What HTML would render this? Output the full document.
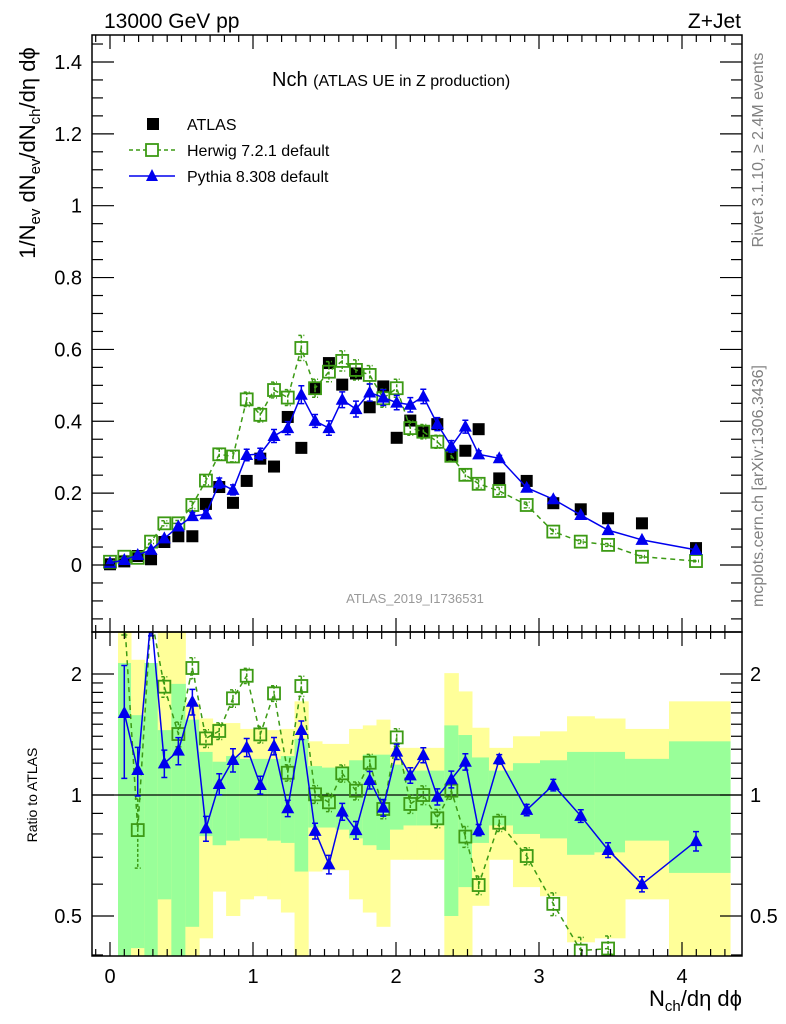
<!DOCTYPE html>
<html><head><meta charset="utf-8">
<style>
html,body{margin:0;padding:0;background:#fff;}
svg{display:block;font-family:"Liberation Sans",Arial,sans-serif;}
</style></head>
<body>
<svg id="chart" xmlns="http://www.w3.org/2000/svg" width="786" height="1024" viewBox="0 0 786 1024">
<defs>
<clipPath id="clipMain"><rect x="92" y="35" width="650" height="597"/></clipPath>
<clipPath id="clipRatio"><rect x="92" y="632" width="650" height="324"/></clipPath>
</defs>
<g id="bands" clip-path="url(#clipRatio)"></g>
<g id="marks"></g>
<g id="axes"></g>
<text x="104" y="28" font-size="21">13000 GeV pp</text>
<text x="741" y="28" font-size="21" text-anchor="end">Z+Jet</text>
<text x="272" y="86" font-size="20">Nch <tspan font-size="16">(ATLAS UE in Z production)</tspan></text>
<g>
  <rect x="147" y="118" width="12" height="12" fill="#000"/>
  <text x="187" y="130" font-size="16">ATLAS</text>
  <line x1="129" y1="150" x2="175" y2="150" stroke="#3c9a14" stroke-width="1.5" stroke-dasharray="4,3"/>
  <rect x="146" y="144" width="12" height="12" fill="#fff" stroke="#3c9a14" stroke-width="1.8"/>
  <text x="187" y="156" font-size="16">Herwig 7.2.1 default</text>
  <line x1="129" y1="176" x2="175" y2="176" stroke="#0000ee" stroke-width="1.5"/>
  <polygon points="152,169 146,181 158,181" fill="#0000ee"/>
  <text x="187" y="182" font-size="16">Pythia 8.308 default</text>
</g>
<text x="415" y="603" font-size="13" fill="#999" text-anchor="middle">ATLAS_2019_I1736531</text>
<text transform="translate(763,150) rotate(-90)" font-size="16" fill="#808080" text-anchor="middle">Rivet 3.1.10, ≥ 2.4M events</text>
<text transform="translate(763,486) rotate(-90)" font-size="16" fill="#808080" text-anchor="middle">mcplots.cern.ch [arXiv:1306.3436]</text>
<text transform="translate(35,153) rotate(-90)" font-size="22" text-anchor="middle">1/N<tspan font-size="15" dy="5">ev</tspan><tspan dy="-5"> dN</tspan><tspan font-size="15" dy="5">ev</tspan><tspan dy="-5">/dN</tspan><tspan font-size="15" dy="5">ch</tspan><tspan dy="-5">/dη dϕ</tspan></text>
<text transform="translate(37,795) rotate(-90)" font-size="14" text-anchor="middle">Ratio to ATLAS</text>
<text x="742" y="1006" font-size="22" text-anchor="end">N<tspan font-size="15" dy="5">ch</tspan><tspan dy="-5">/dη dϕ</tspan></text>
</svg>
<script>
const xVals=[0,0.1,0.194,0.287,0.38,0.478,0.576,0.671,0.764,0.86,0.956,1.051,1.147,1.243,1.338,1.434,1.531,1.624,1.72,1.816,1.911,2.005,2.1,2.191,2.289,2.387,2.485,2.578,2.722,2.914,3.1,3.292,3.483,3.72,4.098];
const atlasVals=[0.002,0.01,0.025,0.016,0.064,0.08,0.08,0.17,0.217,0.173,0.234,0.296,0.274,0.412,0.326,0.49,0.562,0.502,0.533,0.439,0.497,0.354,0.402,0.371,0.392,0.304,0.318,0.378,0.241,0.234,0.172,0.155,0.13,0.116,0.047];
const herwigVals=[0.009,0.023,0.02,0.065,0.116,0.116,0.167,0.235,0.308,0.302,0.461,0.418,0.487,0.466,0.604,0.492,0.538,0.568,0.543,0.529,0.464,0.492,0.381,0.371,0.343,0.304,0.251,0.226,0.206,0.167,0.093,0.065,0.056,0.023,0.011];
const pythiaVals=[0.006,0.014,0.028,0.042,0.074,0.107,0.136,0.141,0.228,0.209,0.306,0.309,0.359,0.381,0.474,0.401,0.381,0.46,0.434,0.48,0.466,0.452,0.446,0.469,0.392,0.33,0.385,0.308,0.297,0.215,0.183,0.139,0.097,0.07,0.042];
const herwigErr=[0.002,0.003,0.004,0.005,0.007,0.008,0.01,0.012,0.015,0.015,0.02,0.02,0.022,0.022,0.035,0.025,0.028,0.028,0.028,0.026,0.025,0.025,0.02,0.02,0.018,0.015,0.015,0.012,0.01,0.008,0.006,0.005,0.004,0.003,0.002];
const pythiaErr=[0.002,0.005,0.004,0.005,0.006,0.008,0.01,0.01,0.014,0.014,0.016,0.016,0.018,0.018,0.025,0.018,0.02,0.022,0.022,0.024,0.022,0.02,0.02,0.02,0.018,0.016,0.018,0.01,0.008,0.007,0.006,0.005,0.004,0.003,0.002];
const herwigRatio=[null,2.8,0.818,2.8,1.86,1.418,2.07,1.383,1.443,1.74,1.98,1.415,1.79,1.136,1.867,1.004,0.959,1.132,1.025,1.203,0.923,1.391,0.95,1.0,0.875,1.025,0.788,0.597,0.853,0.705,0.536,0.41,0.415,0.3,0.3];
const pythiaRatio=[null,1.6,1.154,2.8,1.199,1.289,1.706,0.826,1.065,1.222,1.314,1.059,1.324,0.927,1.451,0.814,0.672,0.909,0.818,1.09,0.93,1.282,1.119,1.257,0.99,1.094,1.21,0.818,1.227,0.918,1.059,0.887,0.73,0.6,0.768];
const bandYHi=[null,3,2.17,2.13,3,3,1.7,1.55,1.51,1.51,1.46,1.46,1.45,1.46,1.71,1.36,1.34,1.34,1.46,1.49,1.54,1.31,1.31,1.31,1.31,2.01,1.81,1.47,1.31,1.4,1.44,1.57,1.55,1.46,1.71];
const bandGHi=[null,2.13,1.58,2.13,1.45,1.89,1.54,1.28,1.21,1.25,1.23,1.23,1.23,1.25,1.38,1.18,1.17,1.17,1.22,1.26,1.26,1.19,1.15,1.15,1.15,1.49,1.41,1.24,1.15,1.2,1.22,1.28,1.28,1.23,1.36];
const bandGLo=[null,0.3,0.416,0.3,0.55,0.3,0.47,0.79,0.75,0.77,0.78,0.78,0.77,0.76,0.645,0.83,0.83,0.82,0.78,0.75,0.73,0.82,0.84,0.84,0.84,0.5,0.59,0.76,0.84,0.8,0.78,0.71,0.72,0.77,0.64];
const bandYLo=[null,0.3,0.3,0.3,0.3,0.3,0.3,0.44,0.575,0.5,0.55,0.56,0.55,0.51,0.3,0.645,0.65,0.65,0.55,0.51,0.47,0.69,0.69,0.69,0.69,0.3,0.3,0.53,0.69,0.59,0.56,0.43,0.44,0.55,0.3];
const xTickLabels=["0","1","2","3","4"];
const yTickLabels=["0","0.2","0.4","0.6","0.8","1","1.2","1.4"];
const ratioTickLabels=["0.5","1","2"];

const NS="http://www.w3.org/2000/svg";
const X0=110, XS=143;
function sx(v){return X0+v*XS;}
function sy(v){return 565-v*359.3;}
function sr(r){return 795-121*Math.log2(r);}
function el(tag,parent){const e=document.createElementNS(NS,tag);parent.appendChild(e);return e;}
function set(e,o){for(const k in o)e.setAttribute(k,o[k]);return e;}

const bands=document.getElementById('bands');
const marks=document.getElementById('marks');
const axes=document.getElementById('axes');

const edges=[];
for(let i=0;i<xVals.length;i++){
  const lo=i===0?xVals[0]-0.044:(xVals[i-1]+xVals[i])/2;
  const hi=i===xVals.length-1?4.336:(xVals[i]+xVals[i+1])/2;
  edges.push([i===1?0.056:lo,hi]);
}
for(let i=1;i<xVals.length;i++){
  const x1=sx(edges[i][0]), x2=sx(edges[i][1]);
  const y=el('rect',bands);
  set(y,{x:x1,y:sr(bandYHi[i]),width:x2-x1+0.5,height:sr(bandYLo[i])-sr(bandYHi[i]),fill:'#ffff99'});
  
  
  const g=el('rect',bands);
  set(g,{x:x1,y:sr(bandGHi[i]),width:x2-x1+0.5,height:sr(bandGLo[i])-sr(bandGHi[i]),fill:'#99ff99'});
  
  
}
const one=el('line',bands);
set(one,{x1:92,x2:742,y1:sr(1),y2:sr(1),stroke:'#000','stroke-width':1.2});



const mainG=el('g',marks); mainG.setAttribute('clip-path','url(#clipMain)');


const ratG=el('g',marks); ratG.setAttribute('clip-path','url(#clipRatio)');



const HW='#3c9a14', PY='#0000ee';
function drawSeries(g,xs,vals,errs,fy,color,dashed,shape,name){
  const pts=[];
  for(let i=0;i<xs.length;i++){ if(vals[i]==null) continue; pts.push(sx(xs[i])+','+fy(vals[i])); }
  const pl=el('polyline',g);
  set(pl,{points:pts.join(' '),fill:'none',stroke:color,'stroke-width':1.5});
  if(dashed) pl.setAttribute('stroke-dasharray','5,4');
  
  
  for(let i=0;i<xs.length;i++){
    if(vals[i]==null) continue;
    const cx=sx(xs[i]), cy=fy(vals[i]);
    if(errs){
      const e=errs(i);
      const yt=fy(e[1]), yb=fy(e[0]);
      const b=el('path',g);
      set(b,{d:`M${cx},${yt}V${yb}M${cx-3},${yt}H${cx+3}M${cx-3},${yb}H${cx+3}`,stroke:color,'stroke-width':1.5,fill:'none'});
      if(dashed) b.setAttribute('stroke-dasharray','3,2');
      
      
    }
    let m;
    if(shape==='sq'){ m=el('rect',g); set(m,{x:cx-6,y:cy-6,width:12,height:12,fill:'#fff','fill-opacity':0,stroke:color,'stroke-width':1.8}); }
    else { m=el('polygon',g); set(m,{points:`${cx},${cy-7} ${cx-6.5},${cy+5} ${cx+6.5},${cy+5}`,fill:color}); }
    
    
  }
}
for(let i=0;i<xVals.length;i++){
  const r=el('rect',mainG);
  set(r,{x:sx(xVals[i])-6,y:sy(atlasVals[i])-6,width:12,height:12,fill:'#000'});
  
  
}
drawSeries(mainG,xVals,herwigVals,i=>[herwigVals[i]-herwigErr[i],herwigVals[i]+herwigErr[i]],sy,HW,true,'sq','herwig');
drawSeries(mainG,xVals,pythiaVals,i=>[pythiaVals[i]-pythiaErr[i],pythiaVals[i]+pythiaErr[i]],sy,PY,false,'tri','pythia');
drawSeries(ratG,xVals,herwigRatio,i=>{const e=herwigErr[i]/atlasVals[i];return [Math.max(0.05,herwigRatio[i]-e),herwigRatio[i]+e];},sr,HW,true,'sq','herwig-ratio');
drawSeries(ratG,xVals,pythiaRatio,i=>{const e=pythiaErr[i]/atlasVals[i];return [Math.max(0.05,pythiaRatio[i]-e),pythiaRatio[i]+e];},sr,PY,false,'tri','pythia-ratio');

function frame(y1,y2,name){
  const r=el('rect',axes);
  set(r,{x:92,y:y1,width:650,height:y2-y1,fill:'none',stroke:'#000','stroke-width':1.5});
  
  
}
frame(35,632,'main-frame'); frame(632,956,'ratio-frame');
function tick(x1,y1,x2,y2){const t=el('line',axes);set(t,{x1,y1,x2,y2,stroke:'#000','stroke-width':1.2});}
function label(x,y,txt,anchor,size,name){const t=el('text',axes);set(t,{x,y,'text-anchor':anchor,'font-size':size});t.textContent=txt;}
for(let k=-1;k<=43;k++){
  const v=k/10, x=sx(v); if(x<93||x>741) continue;
  const major=k%10===0, L=major?14:7;
  [[35,1],[632,1],[632,-1],[956,-1]].forEach(([y,d])=>tick(x,y,x,y+d*L));
}
xTickLabels.forEach((t,i)=>label(sx(+t),983,t,'middle',20,'x-tick-label'));
for(let k=-3;k<=29;k++){
  const v=k*0.05, y=sy(v); if(y<36||y>631) continue;
  const major=k%4===0, L=major?22:11;
  tick(92,y,92+L,y); tick(742,y,742-L,y);
}
yTickLabels.forEach(t=>label(82,sy(+t)+7,t,'end',20,'y-tick-label'));
[0.4,0.5,0.6,0.7,0.8,0.9,1,1.1,1.2,1.3,1.4,1.5,1.6,1.7,1.8,1.9,2].forEach(v=>{
  const y=sr(v); if(y<633||y>955) return;
  const major=(v===0.5||v===1||v===2), L=major?22:11;
  tick(92,y,92+L,y); tick(742,y,742-L,y);
});
ratioTickLabels.forEach(t=>{label(82,sr(+t)+7,t,'end',20,'ratio-tick-label');label(750,sr(+t)+7,t,'start',20,'ratio-tick-label-right');});
</script>
</body></html>
